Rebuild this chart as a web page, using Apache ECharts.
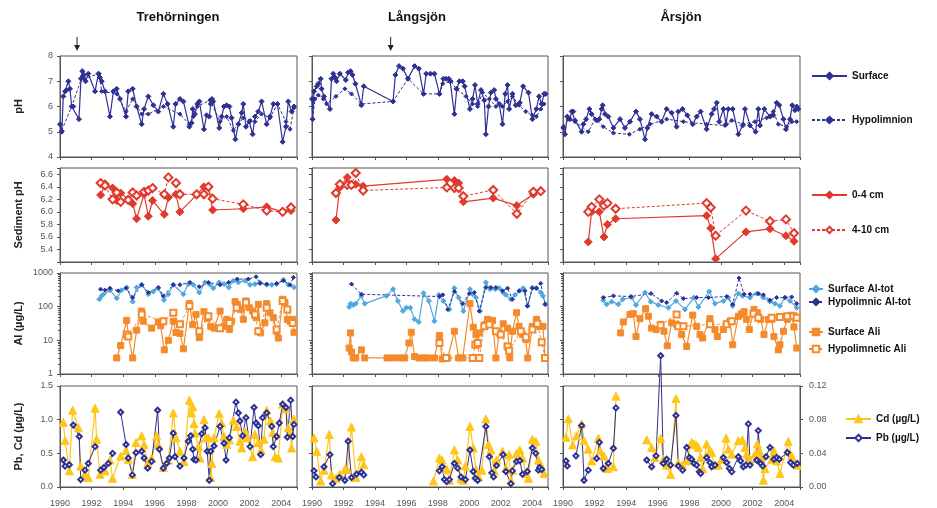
<!DOCTYPE html>
<html><head><meta charset="utf-8">
<script src="https://cdn.jsdelivr.net/npm/echarts@6/dist/echarts.min.js"></script>
<style>html,body{margin:0;padding:0;background:#fff}#c{width:937px;height:508px}</style>
</head><body><div id="c"></div><script>
// ---------------- DATA ----------------
const lakes = ['Trehörningen', 'Långsjön', 'Årsjön'];
const yNames = ['pH', 'Sediment pH', 'Al (µg/L)', 'Pb, Cd (µg/L)'];
const xTickYears = [1990, 1992, 1994, 1996, 1998, 2000, 2002, 2004];
const arrowYears = [1991.08, 1995.0]; // Trehörningen, Långsjön

// Row 1: pH
const trePhSurf = [[1990.00,5.3],[1990.11,5.0],[1990.21,6.4],[1990.32,6.6],[1990.42,6.65],[1990.53,7.0],[1990.63,6.7],[1990.74,6.0],[1990.84,6.0],[1991.20,5.5],[1991.33,7.1],[1991.41,7.4],[1991.52,7.25],[1991.62,7.0],[1991.79,7.3],[1992.22,6.6],[1992.43,7.3],[1992.53,7.15],[1992.64,7.0],[1992.85,6.6],[1993.16,5.6],[1993.38,6.6],[1993.59,6.7],[1993.80,6.3],[1994.18,5.6],[1994.32,6.6],[1994.60,6.7],[1994.85,6.0],[1995.17,5.3],[1995.32,5.9],[1995.59,6.4],[1995.91,6.05],[1996.22,5.8],[1996.54,6.5],[1996.81,6.1],[1997.17,5.2],[1997.32,6.1],[1997.59,6.3],[1997.81,6.2],[1998.19,5.2],[1998.33,5.35],[1998.40,5.9],[1998.54,5.7],[1998.69,6.1],[1998.82,6.2],[1999.11,5.1],[1999.28,5.65],[1999.45,5.6],[1999.54,6.1],[1999.62,6.3],[1999.70,6.2],[2000.08,5.15],[2000.23,5.6],[2000.38,6.0],[2000.55,6.05],[2000.72,6.0],[2000.86,5.55],[2001.10,4.7],[2001.29,5.3],[2001.50,5.75],[2001.60,6.1],[2001.77,5.2],[2001.98,5.4],[2002.19,4.9],[2002.34,5.6],[2002.55,5.8],[2002.76,6.2],[2003.08,5.3],[2003.29,5.6],[2003.50,6.1],[2003.76,6.1],[2004.09,4.6],[2004.30,5.2],[2004.45,6.2],[2004.66,5.8],[2004.81,6.0]];
const trePhHypo = [[1990.11,5.05],[1990.74,6.0],[1991.41,7.2],[1991.52,7.1],[1992.47,7.3],[1992.64,6.6],[1993.59,6.5],[1994.18,5.8],[1994.60,6.3],[1995.17,5.7],[1995.59,5.7],[1996.54,6.0],[1997.59,5.7],[1998.19,5.3],[1998.44,5.6],[1998.69,6.0],[1999.49,6.25],[2000.13,5.4],[2000.55,5.6],[2000.97,5.05],[2001.60,5.55],[2002.03,5.45],[2002.34,5.4],[2002.76,5.7],[2003.29,5.55],[2003.76,6.1],[2004.30,5.4],[2004.56,5.1],[2004.81,5.95]];
const lanPhSurf = [[1990.00,6.3],[1990.04,5.5],[1990.13,6.6],[1990.30,6.8],[1990.40,6.9],[1990.55,7.1],[1990.61,6.7],[1990.76,6.4],[1991.14,5.9],[1991.24,7.1],[1991.35,7.3],[1991.46,7.15],[1991.56,7.0],[1991.77,7.3],[1992.15,7.05],[1992.30,7.35],[1992.45,7.4],[1992.57,7.25],[1992.76,6.9],[1993.14,6.05],[1993.29,6.8],[1995.15,6.2],[1995.30,7.25],[1995.53,7.6],[1995.78,7.5],[1996.10,7.1],[1996.52,7.6],[1996.79,7.5],[1997.09,6.5],[1997.26,7.3],[1997.53,7.3],[1997.78,7.3],[1998.10,6.5],[1998.35,7.1],[1998.52,7.1],[1998.69,7.1],[1998.78,7.0],[1999.05,5.7],[1999.20,6.7],[1999.37,7.0],[1999.58,7.0],[1999.70,6.8],[2000.04,5.9],[2000.21,6.3],[2000.36,6.85],[2000.53,6.1],[2000.74,6.65],[2000.95,6.25],[2001.05,4.9],[2001.22,6.0],[2001.37,6.55],[2001.58,6.65],[2001.69,6.3],[2001.90,6.1],[2002.11,5.3],[2002.28,6.5],[2002.43,6.85],[2002.53,5.9],[2002.74,6.5],[2002.95,6.05],[2003.21,6.15],[2003.42,6.8],[2003.76,6.55],[2004.01,5.5],[2004.26,5.9],[2004.43,6.4],[2004.60,6.1],[2004.75,6.5],[2004.85,6.5]];
const lanPhHypo = [[1990.04,5.5],[1990.19,6.3],[1990.40,6.45],[1990.72,6.3],[1990.93,6.1],[1991.52,6.4],[1992.09,6.7],[1992.51,6.5],[1993.14,6.1],[1995.15,6.2],[1996.10,7.1],[1997.09,6.5],[1998.10,6.5],[1998.31,6.9],[1998.84,7.0],[1999.16,6.7],[1999.79,6.4],[2000.21,6.1],[2000.53,6.0],[2000.84,6.55],[2001.27,6.3],[2001.69,6.0],[2002.11,6.0],[2002.43,6.2],[2002.74,6.4],[2003.16,6.05],[2003.59,5.8],[2004.01,5.65],[2004.26,5.6],[2004.54,5.9],[2004.75,6.1]];
const arsPhSurf = [[1990.02,5.15],[1990.13,4.9],[1990.27,5.6],[1990.44,5.5],[1990.55,5.8],[1990.65,5.8],[1990.76,5.45],[1991.18,5.0],[1991.29,5.3],[1991.46,5.5],[1991.67,5.9],[1991.81,5.7],[1992.13,5.45],[1992.30,5.5],[1992.45,5.9],[1992.51,6.05],[1992.66,5.7],[1992.87,5.6],[1993.19,5.15],[1993.61,5.5],[1993.92,5.15],[1994.24,5.4],[1994.62,5.8],[1994.87,5.5],[1995.19,4.7],[1995.34,5.15],[1995.61,5.7],[1995.93,5.6],[1996.24,5.4],[1996.56,5.9],[1996.88,5.75],[1997.19,5.2],[1997.30,5.8],[1997.57,5.9],[1997.87,5.65],[1998.21,5.3],[1998.46,5.6],[1998.71,5.8],[1999.09,5.1],[1999.41,5.7],[1999.56,5.9],[1999.73,6.15],[1999.89,5.4],[2000.15,5.9],[2000.32,5.3],[2000.46,5.9],[2000.74,5.9],[2001.10,4.9],[2001.37,5.25],[2001.52,5.9],[2001.84,5.25],[2002.19,5.0],[2002.36,5.9],[2002.47,5.25],[2002.74,5.9],[2003.10,5.6],[2003.31,5.65],[2003.52,6.15],[2003.69,6.05],[2003.95,5.5],[2004.11,5.1],[2004.37,5.5],[2004.51,6.05],[2004.68,5.85],[2004.79,6.0],[2004.89,5.9]];
const arsPhHypo = [[1990.02,5.2],[1990.34,5.5],[1990.76,5.4],[1991.60,5.0],[1992.03,5.5],[1992.55,5.2],[1993.19,4.95],[1994.20,4.9],[1994.87,5.1],[1995.51,5.3],[1996.56,5.5],[1997.62,5.4],[1999.09,5.3],[2000.25,5.25],[2000.68,5.45],[2001.41,5.3],[2002.15,5.4],[2002.89,5.55],[2003.31,5.8],[2003.63,5.3],[2004.16,5.2],[2004.49,5.4],[2004.79,5.4]];

// Row 2: sediment pH
const treSed04 = [[1992.57,6.27],[1992.85,6.45],[1993.33,6.38],[1993.59,6.18],[1993.84,6.3],[1994.32,6.2],[1994.60,6.13],[1994.85,5.89],[1995.32,6.28],[1995.59,5.93],[1995.86,6.18],[1996.60,5.96],[1996.86,6.23],[1997.34,6.28],[1997.59,6.0],[1998.65,6.27],[1999.11,6.4],[1999.39,6.4],[1999.66,6.03],[2001.60,6.05],[2003.08,6.08],[2004.09,6.0],[2004.62,6.02]];
const treSed410 = [[1992.57,6.46],[1992.85,6.42],[1993.33,6.2],[1993.59,6.31],[1993.84,6.16],[1994.32,6.19],[1994.60,6.31],[1994.85,6.26],[1995.32,6.32],[1995.59,6.34],[1995.86,6.38],[1996.60,6.28],[1996.86,6.55],[1997.34,6.46],[1997.59,6.28],[1998.65,6.28],[1999.11,6.28],[1999.39,6.4],[1999.66,6.21],[2001.60,6.12],[2003.08,6.02],[2004.09,6.0],[2004.62,6.07]];
const lanSed04 = [[1991.52,5.87],[1991.77,6.39],[1992.24,6.55],[1992.51,6.43],[1992.78,6.44],[1993.25,6.41],[1998.57,6.52],[1999.05,6.5],[1999.32,6.46],[1999.62,6.16],[2001.52,6.22],[2003.02,6.1],[2004.07,6.28],[2004.54,6.33]];
const lanSed410 = [[1991.52,6.3],[1991.77,6.44],[1992.24,6.43],[1992.51,6.43],[1992.78,6.62],[1993.25,6.34],[1998.57,6.39],[1999.05,6.38],[1999.32,6.38],[1999.62,6.25],[2001.52,6.35],[2003.02,5.97],[2004.07,6.32],[2004.54,6.33]];
const arsSed04 = [[1991.60,5.52],[1991.81,6.0],[1992.30,6.0],[1992.59,5.6],[1992.81,5.8],[1993.33,5.89],[1999.09,5.94],[1999.35,5.74],[1999.66,5.25],[2001.58,5.68],[2003.10,5.73],[2004.11,5.62],[2004.62,5.53]];
const arsSed410 = [[1991.60,6.0],[1991.81,6.08],[1992.30,6.2],[1992.59,6.1],[1992.81,6.14],[1993.33,6.05],[1999.09,6.14],[1999.35,6.07],[1999.66,5.62],[2001.58,6.02],[2003.10,5.85],[2004.11,5.88],[2004.62,5.66]];

// Row 3: Al
const treAlTotSurf = [[1992.49,166],[1992.64,209],[1992.74,230],[1993.16,309],[1993.59,178],[1993.90,309],[1994.22,372],[1994.60,141],[1994.85,372],[1995.17,447],[1995.59,234],[1995.91,282],[1996.22,355],[1996.58,158],[1996.86,234],[1997.17,447],[1997.81,234],[1998.12,468],[1998.44,447],[1998.82,263],[1999.18,525],[1999.49,447],[1999.70,355],[2000.08,525],[2000.38,468],[2000.68,372],[2000.97,589],[2001.29,525],[2001.71,589],[2002.03,447],[2002.34,468],[2002.66,525],[2003.08,447],[2003.40,447],[2003.71,468],[2004.14,630],[2004.45,447],[2004.81,380]];
const treAlTotHypo = [[1992.57,331],[1992.85,309],[1993.16,355],[1993.69,295],[1994.18,355],[1994.60,186],[1995.17,447],[1995.59,263],[1996.22,372],[1996.54,209],[1997.17,447],[1997.59,447],[1998.23,525],[1998.82,389],[1999.39,525],[2000.13,447],[2000.68,525],[2001.22,660],[2001.92,660],[2002.41,775],[2002.66,490],[2003.08,468],[2003.71,490],[2004.14,589],[2004.56,447],[2004.77,741]];
const treAliSurf = [[1993.59,3],[1993.84,7],[1994.22,39],[1994.32,15],[1994.60,3],[1994.85,20],[1995.17,74],[1995.27,37],[1995.80,23],[1996.22,35],[1996.37,27],[1996.60,5.2],[1996.86,10],[1997.17,37],[1997.34,17],[1997.59,16],[1997.81,5.6],[1998.19,123],[1998.40,29],[1998.61,59],[1998.82,12],[1999.11,71],[1999.32,45],[1999.54,26],[1999.75,23],[2000.13,74],[2000.38,26],[2000.55,42],[2000.72,21],[2000.86,37],[2001.08,141],[2001.22,117],[2001.43,83],[2001.60,42],[2001.77,148],[2001.98,93],[2002.19,74],[2002.41,47],[2002.55,117],[2002.70,16.6],[2002.97,33],[2003.08,123],[2003.29,66],[2003.50,47],[2003.71,18.6],[2003.82,11.7],[2004.09,166],[2004.24,132],[2004.39,42],[2004.56,37],[2004.73,42],[2004.81,17.4]];
const treAliHypo = [[1994.22,15],[1994.32,13],[1995.17,59],[1996.54,37],[1997.17,66],[1997.59,30],[1998.19,105],[1998.82,18.6],[1999.39,52],[2000.13,23],[2000.72,33],[2001.18,93],[2001.77,132],[2002.34,59],[2002.55,18.6],[2003.08,93],[2003.71,21],[2004.09,148],[2004.39,83],[2004.73,33]];
const lanAlTotSurf = [[1992.36,98],[1992.45,123],[1992.62,112],[1992.78,123],[1993.14,209],[1993.35,123],[1994.73,209],[1995.15,331],[1995.46,148],[1995.78,74],[1995.99,93],[1996.24,93],[1996.52,42],[1996.79,35],[1997.09,251],[1997.43,148],[1997.78,37],[1998.06,224],[1998.35,148],[1998.73,83],[1999.05,355],[1999.32,186],[1999.62,74],[2000.04,331],[2000.21,234],[2000.42,186],[2000.68,74],[2001.05,525],[2001.31,331],[2001.65,331],[2001.90,355],[2002.15,263],[2002.32,224],[2002.64,166],[2002.91,224],[2003.21,295],[2003.42,355],[2003.71,105],[2004.01,372],[2004.26,355],[2004.54,263],[2004.68,209],[2004.85,117]];
const lanAlTotHypo = [[1992.51,468],[1993.14,234],[1998.10,200],[1998.31,224],[1998.63,83],[1999.05,282],[1999.58,123],[2000.00,245],[2000.32,263],[2000.63,74],[2001.05,372],[2001.37,372],[2001.69,372],[2002.11,295],[2002.43,355],[2002.74,166],[2003.16,295],[2003.54,295],[2003.69,105],[2004.01,355],[2004.26,355],[2004.54,490],[2004.81,117]];
const lanAliSurf = [[1992.36,5.9],[1992.45,16.6],[1992.51,4.5],[1992.62,3],[1992.78,3],[1993.14,5.2],[1993.35,3],[1994.77,3],[1995.15,3],[1995.57,3],[1995.89,3],[1996.16,8.3],[1996.31,17.4],[1996.52,3.3],[1996.79,3],[1997.09,3],[1997.36,3],[1997.78,3],[1998.10,14],[1998.27,2.8],[1998.63,3],[1999.05,18.6],[1999.32,3],[1999.58,3],[2000.04,123],[2000.25,24.5],[2000.42,14.8],[2000.53,7.4],[2000.63,16.6],[2001.01,29.5],[2001.16,42],[2001.31,39],[2001.48,39],[2001.69,3],[2001.90,16.6],[2002.15,31],[2002.43,23],[2002.57,3],[2002.74,18.6],[2003.00,66],[2003.16,26],[2003.38,14.8],[2003.59,10.5],[2003.71,3],[2004.01,26],[2004.26,42],[2004.47,26],[2004.68,26],[2004.81,3]];
const lanAliHypo = [[1998.10,8.3],[1998.52,3],[2000.21,3],[2000.38,7.4],[2000.53,8.3],[2000.63,3],[2000.95,26],[2001.27,29.5],[2001.69,18.6],[2002.00,14.8],[2002.43,6.6],[2002.53,4.9],[2003.27,18.6],[2003.59,12.3],[2004.01,21],[2004.32,31],[2004.60,8.7],[2004.81,3]];
const arsAlTotSurf = [[1992.55,155],[1992.76,117],[1993.08,141],[1993.50,117],[1993.78,166],[1994.35,186],[1994.62,112],[1995.19,263],[1995.55,141],[1996.03,112],[1996.67,93],[1997.15,148],[1997.72,83],[1998.29,186],[1998.57,98],[1999.26,282],[1999.62,123],[2000.15,148],[2000.46,186],[2000.74,105],[2001.10,245],[2001.37,209],[2001.84,186],[2002.26,245],[2002.68,186],[2003.10,141],[2003.42,123],[2003.73,105],[2004.05,186],[2004.37,148],[2004.79,93]];
const arsAlTotHypo = [[1992.55,186],[1993.19,209],[1994.30,200],[1995.57,245],[1996.24,148],[1996.56,132],[1997.19,251],[1997.62,174],[1998.46,186],[1999.20,186],[2000.36,200],[2000.74,117],[2001.14,708],[2001.46,234],[2001.84,234],[2002.36,245],[2002.68,224],[2003.10,155],[2003.52,186],[2004.05,186],[2004.47,195],[2004.79,123]];
const arsAliSurf = [[1993.65,16.6],[1993.82,35],[1994.24,59],[1994.45,62],[1994.62,13],[1994.87,44],[1995.23,87],[1995.40,52],[1995.61,23],[1995.89,21],[1996.18,30],[1996.39,18.6],[1996.60,6.9],[1996.88,33],[1997.19,30],[1997.51,14.8],[1997.83,6.6],[1998.21,56],[1998.46,26],[1998.67,14.8],[1998.84,11.7],[1999.30,44],[1999.62,21],[1999.77,13],[2000.15,21],[2000.40,30],[2000.57,37],[2000.74,7.4],[2001.10,52],[2001.31,62],[2001.46,71],[2001.62,42],[2001.79,21],[2002.09,83],[2002.30,66],[2002.51,42],[2002.72,14.8],[2003.00,42],[2003.21,42],[2003.35,13],[2003.63,5.2],[2003.73,7.4],[2003.95,18.6],[2004.20,42],[2004.47,56],[2004.62,25],[2004.79,5.9]];
const arsAliHypo = [[1996.18,28],[1997.19,59],[1997.30,26],[1997.62,26],[1999.30,30],[2000.36,30],[2000.68,37],[2002.05,62],[2002.36,47],[2003.21,47],[2003.73,49],[2004.20,52],[2004.58,52],[2004.79,47]];

// Row 4: Pb, Cd  (null = gap in the line)
const treCd = [[1990.21,0.96],[1990.32,0.69],[1990.59,0.24],[1990.80,1.14],[1991.16,0.88],[1991.31,0.31],[1991.58,0.19],[1991.79,0.14],[1992.22,1.17],[1992.32,0.71],[1992.53,0.19],[1992.85,0.24],[1993.16,0.4],[1993.33,0.13],[1993.84,0.46],[1994.18,0.54],[1994.32,0.41],[1994.58,0.19],[1994.81,0.66],[1995.17,0.76],[1995.32,0.63],[1995.55,0.35],[1995.80,0.43],[1996.12,0.76],[1996.22,0.63],[1996.54,0.29],[1996.86,0.4],[1997.17,1.1],[1997.34,0.73],[1997.59,0.53],[1997.85,0.38],[1998.19,1.29],[1998.33,1.1],[1998.40,1.19],[1998.48,0.94],[1998.54,0.8],[1998.76,0.6],[1998.86,0.43],[1999.11,1.0],[1999.24,0.73],[1999.39,0.73],[1999.54,0.14],[1999.62,0.35],[1999.75,0.73],[2000.08,1.09],[2000.23,0.95],[2000.38,0.75],[2000.55,0.63],[2000.72,0.7],[2000.97,0.99],[2001.18,0.9],[2001.39,0.68],[2001.50,0.58],[2001.71,0.83],[2001.86,0.73],[2002.19,0.45],[2002.34,0.78],[2002.55,0.66],[2002.72,0.55],[2002.91,0.71],[2003.08,1.14],[2003.33,0.98],[2003.46,0.81],[2003.61,0.45],[2003.82,0.43],[2004.09,1.23],[2004.30,1.16],[2004.45,0.88],[2004.56,0.8],[2004.66,0.58],[2004.81,1.01]];
const trePb = [[1990.21,0.4],[1990.32,0.31],[1990.59,0.33],[1990.70,null],[1990.84,0.92],[1991.22,0.75],[1991.31,0.11],[1991.58,0.25],[1991.79,0.35],[1992.22,0.6],[1992.40,null],[1992.57,0.25],[1992.78,0.29],[1993.06,0.35],[1993.33,0.5],[1993.60,null],[1993.84,1.11],[1994.18,0.63],[1994.32,0.43],[1994.58,0.18],[1994.81,0.51],[1995.17,0.53],[1995.32,0.43],[1995.55,0.28],[1995.80,0.38],[1996.18,1.14],[1996.29,0.56],[1996.54,0.28],[1996.75,0.35],[1996.92,0.43],[1997.17,0.8],[1997.28,0.45],[1997.59,0.31],[1997.85,0.43],[1998.12,0.68],[1998.27,0.76],[1998.40,0.56],[1998.48,0.41],[1998.61,0.4],[1998.97,0.79],[1999.18,0.88],[1999.32,0.53],[1999.45,0.1],[1999.54,0.53],[1999.75,0.61],[2000.13,0.9],[2000.38,0.65],[2000.51,0.4],[2000.72,0.73],[2001.14,1.26],[2001.29,1.1],[2001.39,0.98],[2001.56,0.76],[2001.77,1.03],[2002.03,0.6],[2002.28,1.18],[2002.41,0.95],[2002.55,0.91],[2002.70,0.48],[2002.83,1.03],[2003.08,1.1],[2003.40,0.9],[2003.50,0.6],[2003.71,0.75],[2003.88,0.95],[2004.09,1.23],[2004.30,1.18],[2004.39,0.74],[2004.60,1.29],[2004.73,0.75],[2004.81,0.93]];
const lanCd = [[1990.13,0.73],[1990.30,0.53],[1990.55,0.09],[1990.76,0.25],[1991.10,0.78],[1991.24,0.18],[1991.52,0.13],[1991.77,0.19],[1992.09,0.26],[1992.24,0.26],[1992.51,0.89],[1992.78,0.14],[1993.14,0.45],[1993.29,0.33],[1995.50,null],[1997.72,0.09],[1998.10,0.43],[1998.27,0.4],[1998.57,0.26],[1998.73,0.1],[1999.05,0.55],[1999.26,0.4],[1999.47,0.13],[1999.62,0.1],[1999.75,0.31],[2000.04,0.9],[2000.25,0.58],[2000.42,0.26],[2000.59,0.15],[2000.80,0.25],[2001.05,1.01],[2001.22,0.63],[2001.37,0.55],[2001.58,0.24],[2001.73,0.4],[2002.11,0.53],[2002.32,0.28],[2002.53,0.48],[2002.64,0.1],[2002.74,0.25],[2003.00,0.5],[2003.21,0.55],[2003.38,0.43],[2003.59,0.2],[2003.76,0.13],[2004.01,0.71],[2004.22,0.68],[2004.39,0.4],[2004.54,0.33],[2004.75,0.2]];
const lanPb = [[1990.13,0.24],[1990.25,0.15],[1990.50,null],[1990.76,0.3],[1991.14,0.48],[1991.31,0.05],[1991.73,0.14],[1992.09,0.1],[1992.30,0.68],[1992.51,0.14],[1992.83,0.19],[1993.14,0.22],[1993.29,0.18],[1995.50,null],[1998.10,0.24],[1998.27,0.3],[1998.42,0.11],[1998.57,0.08],[1998.73,0.11],[1999.05,0.35],[1999.26,0.28],[1999.47,0.15],[1999.75,0.11],[2000.04,0.55],[2000.25,0.23],[2000.38,0.13],[2000.53,0.1],[2001.05,0.9],[2001.27,0.45],[2001.43,0.21],[2001.54,0.15],[2001.73,0.32],[2002.15,0.48],[2002.32,0.23],[2002.64,0.05],[2002.74,0.24],[2003.00,0.38],[2003.21,0.39],[2003.38,0.19],[2003.69,0.23],[2004.01,0.58],[2004.22,0.5],[2004.39,0.25],[2004.47,0.29],[2004.60,0.26]];
const arsCd = [[1990.19,0.059],[1990.34,0.081],[1990.61,0.05],[1990.86,0.061],[1991.18,0.075],[1991.33,0.055],[1991.60,0.045],[1991.81,0.031],[1992.24,0.058],[1992.34,0.043],[1992.59,0.037],[1992.81,0.022],[1993.19,0.024],[1993.35,0.108],[1994.30,null],[1995.30,0.056],[1995.61,0.047],[1995.82,0.035],[1996.18,0.058],[1996.35,0.033],[1996.56,0.026],[1996.81,0.015],[1997.15,0.105],[1997.30,0.029],[1997.57,0.026],[1997.83,0.031],[1998.14,0.053],[1998.29,0.051],[1998.42,0.05],[1998.57,0.047],[1998.71,0.035],[1998.84,0.022],[1999.09,0.051],[1999.30,0.043],[1999.41,0.041],[1999.62,0.026],[1999.83,0.026],[2000.04,0.033],[2000.32,0.058],[2000.46,0.045],[2000.68,0.039],[2001.10,0.055],[2001.35,0.056],[2001.52,0.047],[2001.62,0.039],[2001.79,0.033],[2002.15,0.039],[2002.30,0.051],[2002.43,0.043],[2002.53,0.035],[2002.68,0.008],[2002.78,0.022],[2003.21,0.033],[2003.35,0.043],[2003.52,0.031],[2003.73,0.016],[2004.26,0.054],[2004.47,0.037],[2004.68,0.028],[2004.83,0.026]];
const arsPb = [[1990.19,0.031],[1990.27,0.025],[1990.55,null],[1990.82,0.037],[1991.18,0.073],[1991.33,0.008],[1991.60,0.02],[1991.90,null],[1992.13,0.034],[1992.30,0.053],[1992.55,0.022],[1992.87,0.028],[1993.19,0.046],[1993.35,0.094],[1994.30,null],[1995.30,0.032],[1995.61,0.024],[1995.89,0.037],[1996.18,0.156],[1996.35,0.028],[1996.56,0.033],[1996.81,0.026],[1997.15,0.085],[1997.30,0.025],[1997.57,0.02],[1997.83,0.047],[1998.00,0.035],[1998.14,0.033],[1998.29,0.028],[1998.46,0.026],[1998.63,0.018],[1998.71,0.016],[1999.09,0.035],[1999.30,0.029],[1999.41,0.024],[1999.62,0.026],[2000.15,0.035],[2000.36,0.029],[2000.53,0.022],[2000.68,0.018],[2001.10,0.036],[2001.24,0.031],[2001.41,0.024],[2001.58,0.026],[2001.73,0.075],[2001.84,0.026],[2002.26,0.032],[2002.36,0.067],[2002.51,0.028],[2002.64,0.025],[2002.85,0.036],[2003.10,0.047],[2003.35,0.033],[2003.52,0.035],[2003.69,0.033],[2004.20,0.041],[2004.41,0.029],[2004.58,0.026],[2004.83,0.028]];

// ---------------- LAYOUT / STYLE ----------------
const FONT = '"Liberation Sans", Arial, sans-serif';
const NAVY = '#2E3192', RED = '#E2392D', LBLUE = '#4FA8DE', ORANGE = '#F58A2C', YELLOW = '#FFC61A';
const AX = '#555', LBL = '#555';
const colLeft = [60, 312, 563], colW = [237, 236, 237];
const rowTop = [56, 168, 273, 386], rowH = [101, 94, 101, 101];

const grids = [], xAxes = [], yAxes = [];
for (let r = 0; r < 4; r++) {
  for (let c = 0; c < 3; c++) {
    const i = r * 3 + c;
    grids.push({ left: colLeft[c], top: rowTop[r], width: colW[c], height: rowH[r], show: true, borderColor: AX, borderWidth: 1 });
    xAxes.push({
      type: 'value', gridIndex: i, min: 1990, max: 2005, interval: 2,
      axisLine: { onZero: false, lineStyle: { color: AX } },
      axisTick: { length: 3, lineStyle: { color: AX } },
      splitLine: { show: false },
      axisLabel: { show: r === 3, color: LBL, fontSize: 9, fontFamily: FONT, margin: 12,
        formatter: v => xTickYears.indexOf(Math.round(v)) >= 0 && Math.abs(v - Math.round(v)) < 1e-6 ? String(Math.round(v)) : '' }
    });
    const y = {
      gridIndex: i,
      axisLine: { show: true, onZero: false, lineStyle: { color: AX } },
      axisTick: { show: true, length: 3, lineStyle: { color: AX } },
      splitLine: { show: false },
      axisLabel: { show: c === 0, color: LBL, fontSize: 9, fontFamily: FONT, margin: 7 }
    };
    if (c === 0) {
      Object.assign(y, { name: yNames[r], nameLocation: 'middle', nameGap: 36,
        nameTextStyle: { fontSize: 11, fontWeight: 'bold', color: '#222', fontFamily: FONT } });
    }
    if (r === 0) Object.assign(y, { type: 'value', min: 4, max: 8, interval: 1 });
    if (r === 1) { Object.assign(y, { type: 'value', min: 5.2, max: 6.7, interval: 0.2 });
      y.axisLabel.formatter = v => (v > 5.3 && v < 6.65) ? v.toFixed(1) : ''; }
    if (r === 2) { Object.assign(y, { type: 'log', logBase: 10, min: 1, max: 1000 });
      y.axisLabel.formatter = v => String(Math.round(v));
      y.minorTick = { show: true, splitNumber: 9, length: 2, lineStyle: { color: AX } }; }
    if (r === 3) { Object.assign(y, { type: 'value', min: 0, max: 1.5, interval: 0.5 });
      y.axisLabel.formatter = v => v.toFixed(1); }
    yAxes.push(y);
  }
}
// right axis for Årsjön Pb/Cd
yAxes.push({ type: 'value', gridIndex: 11, position: 'right', min: 0, max: 0.12, interval: 0.04,
  axisLine: { show: true, onZero: false, lineStyle: { color: AX } },
  axisTick: { show: true, length: 3, lineStyle: { color: AX } }, splitLine: { show: false },
  axisLabel: { color: LBL, fontSize: 9, fontFamily: FONT, margin: 9, formatter: v => v.toFixed(2) } });

const S = {
  phSurf:  { color: NAVY, symbol: 'diamond', symbolSize: 5, lineType: 'solid', width: 1.2 },
  phHypo:  { color: NAVY, symbol: 'diamond', symbolSize: 4, lineType: [3, 2], width: 1 },
  sed04:   { color: RED, symbol: 'diamond', symbolSize: 8, lineType: 'solid', width: 1.2 },
  sed410:  { color: RED, symbol: 'emptyDiamond', symbolSize: 8, lineType: [3, 2], width: 1 },
  alSurf:  { color: LBLUE, symbol: 'diamond', symbolSize: 5, lineType: 'solid', width: 1.2 },
  alHypo:  { color: NAVY, symbol: 'diamond', symbolSize: 4, lineType: [3, 2], width: 1 },
  aliSurf: { color: ORANGE, symbol: 'rect', symbolSize: 6, lineType: 'solid', width: 1.2 },
  aliHypo: { color: ORANGE, symbol: 'emptyRect', symbolSize: 6, lineType: [3, 2], width: 1 },
  cd:      { color: YELLOW, symbol: 'triangle', symbolSize: 8, lineType: 'solid', width: 1.2 },
  pb:      { color: NAVY, symbol: 'emptyDiamond', symbolSize: 5, lineType: 'solid', width: 1 }
};
function ser(name, data, r, c, st, yIdx, extra) {
  const i = r * 3 + c;
  return Object.assign({
    type: 'line', name, data, xAxisIndex: i, yAxisIndex: yIdx == null ? i : yIdx,
    symbol: st.symbol, symbolSize: st.symbolSize, showSymbol: true, connectNulls: false,
    itemStyle: { color: st.color, borderColor: st.color, borderWidth: 1 },
    lineStyle: { color: st.color, width: st.width, type: st.lineType },
    emphasis: { disabled: true }, animation: false
  }, extra || {});
}
const series = [
  ser('Surface', trePhSurf, 0, 0, S.phSurf), ser('Hypolimnion', trePhHypo, 0, 0, S.phHypo),
  ser('Surface', lanPhSurf, 0, 1, S.phSurf), ser('Hypolimnion', lanPhHypo, 0, 1, S.phHypo),
  ser('Surface', arsPhSurf, 0, 2, S.phSurf), ser('Hypolimnion', arsPhHypo, 0, 2, S.phHypo),
  ser('0-4 cm', treSed04, 1, 0, S.sed04), ser('4-10 cm', treSed410, 1, 0, S.sed410),
  ser('0-4 cm', lanSed04, 1, 1, S.sed04), ser('4-10 cm', lanSed410, 1, 1, S.sed410),
  ser('0-4 cm', arsSed04, 1, 2, S.sed04), ser('4-10 cm', arsSed410, 1, 2, S.sed410),
  ser('Surface Al-tot', treAlTotSurf, 2, 0, S.alSurf), ser('Hypolimnic Al-tot', treAlTotHypo, 2, 0, S.alHypo),
  ser('Surface Ali', treAliSurf, 2, 0, S.aliSurf), ser('Hypolimnetic Ali', treAliHypo, 2, 0, S.aliHypo),
  ser('Surface Al-tot', lanAlTotSurf, 2, 1, S.alSurf), ser('Hypolimnic Al-tot', lanAlTotHypo, 2, 1, S.alHypo),
  ser('Surface Ali', lanAliSurf, 2, 1, S.aliSurf), ser('Hypolimnetic Ali', lanAliHypo, 2, 1, S.aliHypo),
  ser('Surface Al-tot', arsAlTotSurf, 2, 2, S.alSurf), ser('Hypolimnic Al-tot', arsAlTotHypo, 2, 2, S.alHypo),
  ser('Surface Ali', arsAliSurf, 2, 2, S.aliSurf), ser('Hypolimnetic Ali', arsAliHypo, 2, 2, S.aliHypo),
  ser('Cd (µg/L)', treCd, 3, 0, S.cd), ser('Pb (µg/L)', trePb, 3, 0, S.pb),
  ser('Cd (µg/L)', lanCd, 3, 1, S.cd), ser('Pb (µg/L)', lanPb, 3, 1, S.pb),
  ser('Cd (µg/L)', arsCd, 3, 2, S.cd, 12), ser('Pb (µg/L)', arsPb, 3, 2, S.pb, 12, { clip: false })
];

const legTxt = { fontSize: 10, fontWeight: 'bold', color: '#111', fontFamily: FONT };
function leg(names, left, top, w, gap) {
  return { data: names, orient: 'vertical', left, top, itemWidth: w, itemHeight: 8, itemGap: gap,
    textStyle: legTxt, selectedMode: false, padding: 0 };
}
const legends = [
  leg(['Surface', 'Hypolimnion'], 811, 71, 35, 34),
  leg(['0-4 cm', '4-10 cm'], 811, 190, 35, 25),
  leg(['Surface Al-tot', 'Hypolimnic Al-tot'], 808, 284, 14, 3),
  leg(['Surface Ali', 'Hypolimnetic Ali'], 808, 327, 14, 7),
  leg(['Cd (µg/L)', 'Pb (µg/L)'], 845, 414, 25, 9)
];

// titles & arrows
const graphics = [];
const titleX = [178, 417, 681];
lakes.forEach((t, c) => graphics.push({ type: 'text', x: titleX[c], y: 11,
  style: { text: t, font: 'bold 13px ' + FONT, fill: '#111', textAlign: 'center' } }));

const chart = echarts.init(document.getElementById('c'), null, { renderer: 'canvas' });
chart.setOption({
  animation: false, backgroundColor: '#fff',
  grid: grids, xAxis: xAxes, yAxis: yAxes, series, legend: legends, graphic: graphics
});
// arrows placed at data years via axis conversion
const arrowEls = [];
arrowYears.forEach((yr, c) => {
  const px = chart.convertToPixel({ xAxisIndex: c }, yr);
  arrowEls.push({ type: 'line', shape: { x1: px, y1: 37, x2: px, y2: 46 }, style: { stroke: '#222', lineWidth: 1 } });
  arrowEls.push({ type: 'polygon', shape: { points: [[px - 3, 45], [px + 3, 45], [px, 51]] }, style: { fill: '#222' } });
});
chart.setOption({ graphic: graphics.concat(arrowEls) });
</script></body></html>
